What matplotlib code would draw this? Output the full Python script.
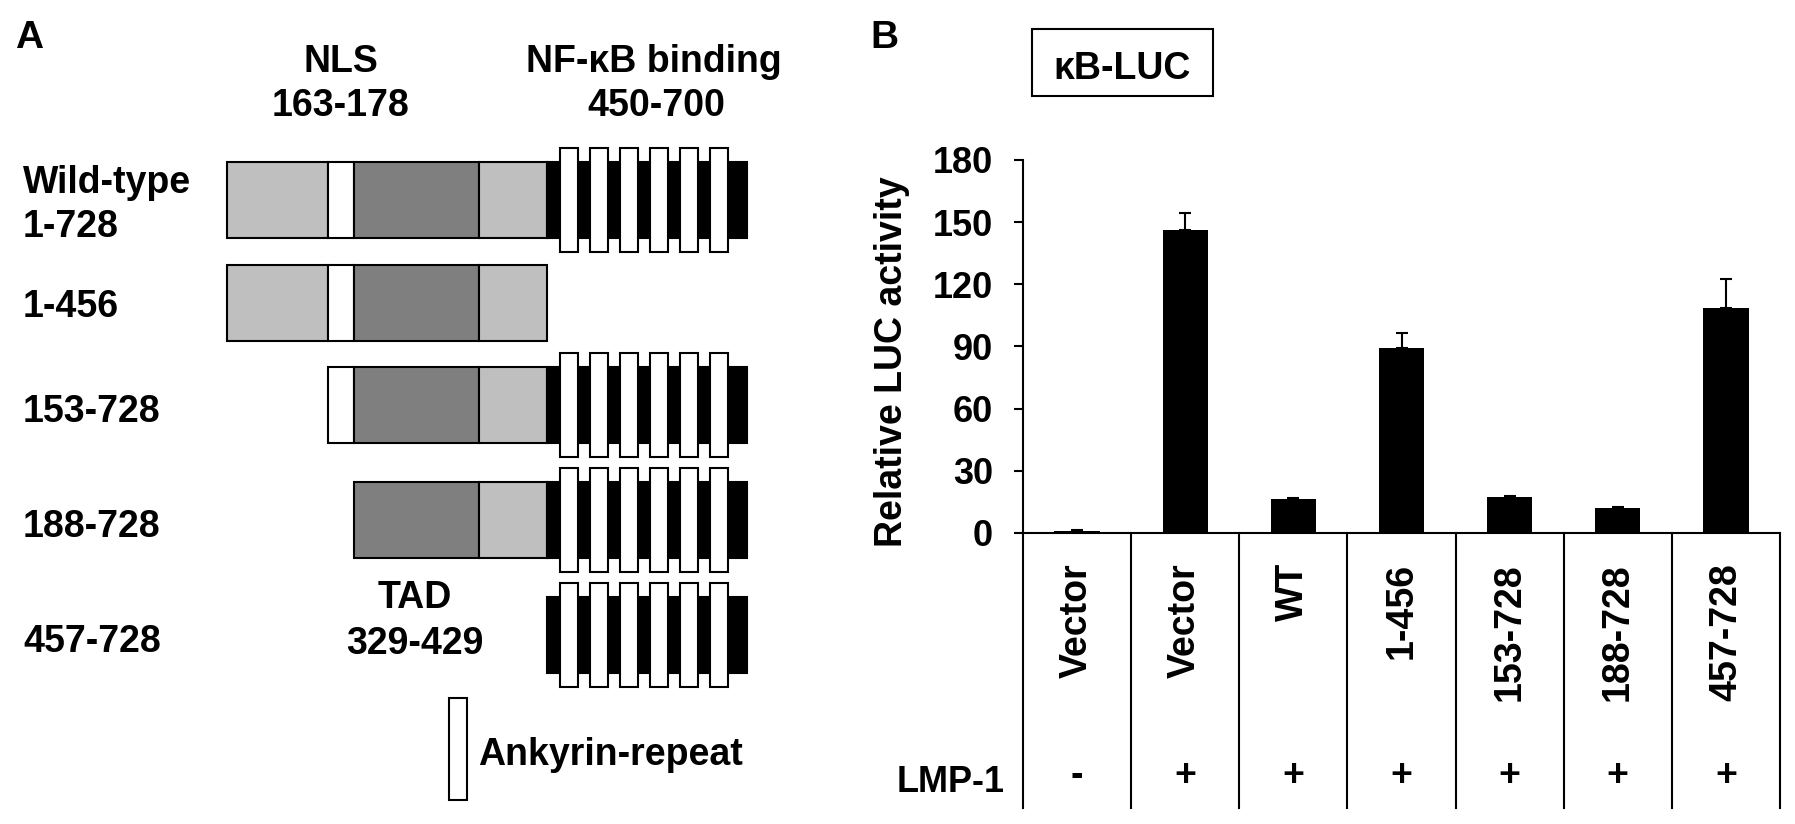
import numpy as np
import matplotlib
matplotlib.use("Agg")
import matplotlib.pyplot as plt
from matplotlib.patches import Rectangle
from matplotlib.lines import Line2D
from matplotlib.transforms import blended_transform_factory

# ---------------- data ----------------
# Panel A: constructs and their domains
construct_labels = ["Wild-type\n1-728", "1-456", "153-728", "188-728", "457-728"]
domain_names = ["N-term", "NLS", "TAD", "linker", "ANK"]
domain_colors = ["#bfbfbf", "#ffffff", "#7f7f7f", "#bfbfbf", "#000000"]
construct_domains = [[0, 1, 2, 3, 4], [0, 1, 2, 3], [1, 2, 3, 4], [2, 3, 4], [4]]
n_repeats = 6

# Panel B: luciferase assay
categories = ["Vector", "Vector", "WT", "1-456", "153-728", "188-728", "457-728"]
lmp1 = ["-", "+", "+", "+", "+", "+", "+"]
luc_values = [1.0, 146.0, 16.3, 89.5, 17.2, 12.2, 108.8]
luc_errors = [0.3, 8.2, 0.8, 7.0, 0.6, 0.4, 13.7]
yticks = [0, 30, 60, 90, 120, 150, 180]

# ---------------- layout (pixels) ----------------
W, H = 1795, 824
seg_x = [227, 328, 354, 479, 547, 747]        # schematic drawing positions of domain edges
row_y = [200, 302.5, 405, 520, 635]           # schematic row centres
bar_half = 38
stripe_half = 52
stripe_x0, stripe_pitch, stripe_w = 560, 29.9, 18

plt.rcParams["font.family"] = ["Liberation Sans", "DejaVu Sans"]
plt.rcParams["font.weight"] = "bold"

fig = plt.figure(figsize=(W / 100, H / 100), dpi=100)
ov = fig.add_axes([0, 0, 1, 1])
ov.set_xlim(0, W)
ov.set_ylim(H, 0)
ov.axis("off")

FS = 27
# ---------------- Panel A ----------------
ov.text(15, 48, "A", fontsize=28, ha="left", va="baseline")
ov.text(341, 72, "NLS", fontsize=FS, ha="center", va="baseline")
ov.text(341, 116, "163-178", fontsize=FS, ha="center", va="baseline")
ov.text(654, 72, "NF-\u03baB binding", fontsize=FS, ha="center", va="baseline")
ov.text(656, 116, "450-700", fontsize=FS, ha="center", va="baseline")

label_baselines = [193, 317, 422, 537, 652]
for lab, yb in zip(construct_labels, label_baselines):
    lines = lab.split("\n")
    for j, ln in enumerate(lines):
        ov.text(23, yb + 44 * j, ln, fontsize=FS, ha="left", va="baseline")

for r, doms in enumerate(construct_domains):
    yc = row_y[r]
    for d in doms:
        x0, x1 = seg_x[d], seg_x[d + 1]
        ov.add_patch(Rectangle((x0, yc - bar_half), x1 - x0, 2 * bar_half,
                               facecolor=domain_colors[d], edgecolor="black", lw=1.5))
        if domain_names[d] == "ANK":
            for k in range(n_repeats):
                xs = stripe_x0 + k * stripe_pitch
                ov.add_patch(Rectangle((xs, yc - stripe_half), stripe_w, 2 * stripe_half,
                                       facecolor="white", edgecolor="black", lw=1.5))

ov.text(415, 608, "TAD", fontsize=FS, ha="center", va="baseline")
ov.text(415, 654, "329-429", fontsize=FS, ha="center", va="baseline")
ov.add_patch(Rectangle((449, 698), 18, 102, facecolor="white", edgecolor="black", lw=1.5))
ov.text(478, 765, "Ankyrin-repeat", fontsize=FS, ha="left", va="baseline")

# ---------------- Panel B ----------------
ov.text(870, 48, "B", fontsize=28, ha="left", va="baseline")
ov.add_patch(Rectangle((1032, 29), 181, 67, fill=False, edgecolor="black", lw=1.5))
ov.text(1122, 79, "\u03baB-LUC", fontsize=FS, ha="center", va="baseline")
ov.text(892, 362, "Relative LUC activity", fontsize=FS, rotation=90,
        ha="center", va="center")
ov.text(1005, 792, "LMP-1", fontsize=26, ha="right", va="baseline")

axB = fig.add_axes([1023 / W, 1 - 533 / H, (1780 - 1023) / W, (533 - 160) / H])
axB.patch.set_alpha(0)
x = np.arange(len(categories))
axB.bar(x, luc_values, width=0.42, color="black", zorder=3)
axB.errorbar(x, luc_values, yerr=[np.zeros(len(x)), luc_errors], fmt="none",
             ecolor="black", elinewidth=1.5, capsize=4.5, capthick=1.5, zorder=2)
axB.set_xlim(-0.5, len(categories) - 0.5)
axB.set_ylim(0, 180)
axB.set_yticks(yticks)
axB.set_xticks([])
axB.tick_params(axis="y", length=6.5, width=1.5, pad=15, labelsize=26)
for s in ["top", "right"]:
    axB.spines[s].set_visible(False)
for s in ["left", "bottom"]:
    axB.spines[s].set_linewidth(1.5)

trans = blended_transform_factory(axB.transData, fig.transFigure)
for xb in np.arange(-0.5, len(categories)):
    axB.add_line(Line2D([xb, xb], [1 - 533 / H, 1 - 808 / H], transform=trans,
                        color="black", lw=1.5, clip_on=False))
for i, (cat, sg) in enumerate(zip(categories, lmp1)):
    axB.text(i, 1 - 563 / H, cat, transform=trans, rotation=90, ha="center",
             va="top", fontsize=FS)
    axB.text(i, 1 - 776 / H, sg, transform=trans, ha="center", va="center",
             fontsize=FS)

fig.savefig("out.png", dpi=100)
